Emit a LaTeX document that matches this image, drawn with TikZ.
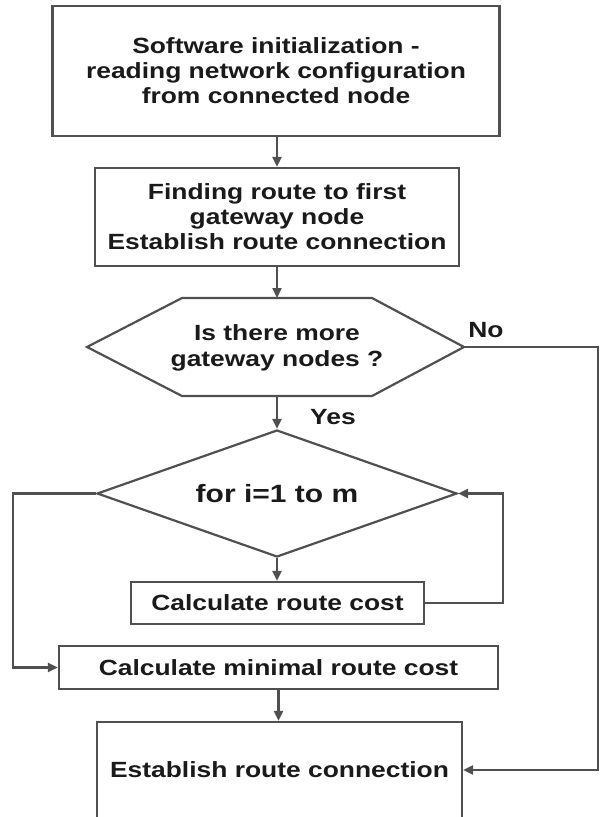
\documentclass[tikz,border=0pt]{standalone}
\usepackage{fontspec}
\setmainfont{Liberation Sans}[FakeStretch=1.2]
\usetikzlibrary{arrows.meta,shapes.geometric}
\definecolor{edge}{HTML}{505050}
\definecolor{ink}{HTML}{1A1A1A}
\begin{document}
\begin{tikzpicture}[x=1pt,y=-1pt,
  txt/.style={text=ink, font=\bfseries\fontsize{22}{25}\selectfont},
  box/.style={txt, draw=edge, line width=2.2pt, fill=white, align=center, inner sep=0pt},
  conn/.style={draw=edge, line width=2.2pt},
  arr/.style={conn, -{Triangle[length=10pt,width=9pt]}},
  lbl/.style={txt, inner sep=0pt}]
\useasboundingbox (0,0) rectangle (600,817);
\clip (0,0) rectangle (600,817);
\fill[white] (0,0) rectangle (600,817);

% boxes
\node[box, minimum width=447pt, minimum height=130pt] (init) at (276,71)
  {Software initialization -\\reading network configuration\\from connected node};
\node[box, minimum width=364pt, minimum height=98pt] (find) at (277,217)
  {Finding route to first\\gateway node\\Establish route connection};

% hexagon decision
\coordinate (hl) at (87,347);
\coordinate (htl) at (182,298);
\coordinate (htr) at (372,298);
\coordinate (hr) at (464,347);
\coordinate (hbr) at (372,396);
\coordinate (hbl) at (182,396);
\coordinate (ht) at (277,298);
\coordinate (hb) at (277,396);
\draw[conn, fill=white] (hl) -- (htl) -- (htr) -- (hr) -- (hbr) -- (hbl) -- cycle;
\node[txt, align=center, inner sep=0pt, font=\bfseries\fontsize{22}{26}\selectfont] (hex) at (277,348)
  {Is there more\\gateway nodes ?};

% loop diamond
\node[box, shape=diamond, aspect=2.83, minimum width=360pt, minimum height=127pt,
  font=\bfseries\fontsize{25}{28}\selectfont] (loop) at (277,493.5) {for i=1 to m};

\node[box, minimum width=293pt, minimum height=42pt] (calc) at (277.5,603) {Calculate route cost};
\node[box, minimum width=439pt, minimum height=43pt] (minc) at (278.5,667.5) {Calculate minimal route cost};
\node[box, minimum width=365pt, minimum height=96pt] (est) at (279.5,770) {Establish route connection};

% connectors
\draw[arr] (find.north |- init.south) -- (find.north);
\draw[arr] (find.south) -- (ht);
\draw[arr] (hb) -- (loop.north);
\draw[arr] (loop.south) -- (loop.south |- calc.north);
\draw[arr] (calc.east) -- ++(78,0) |- (loop.east);
\draw[arr] (loop.west) -- ++(-83,0) |- (minc.west);
\draw[arr] (minc.south) -- (minc.south |- est.north);
\draw[arr] (hr) -- ++(134,0) |- (est.east);

% labels
\node[lbl] (no) at (486,330) {No};
\node[lbl] (yes) at (333,417) {Yes};
\end{tikzpicture}
\end{document}
